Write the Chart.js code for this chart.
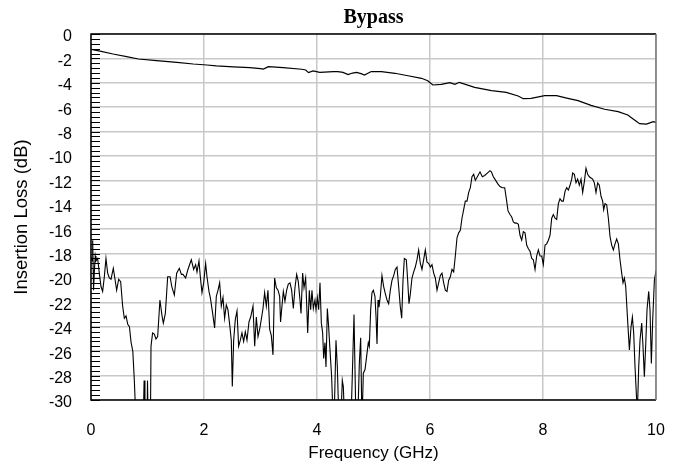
<!DOCTYPE html>
<html>
<head>
<meta charset="utf-8">
<script src="https://cdn.jsdelivr.net/npm/chart.js@4.4.1/dist/chart.umd.min.js"></script>
<style>
html,body{margin:0;padding:0;background:#fff;}
canvas{display:block;}
</style>
</head>
<body>
<canvas id="c" width="678" height="464"></canvas>
<script>
// Upper curve (Bypass insertion loss)
const freqTop = [0.0,0.05,0.16,0.39,0.63,0.84,1.16,1.52,1.81,2.05,2.22,2.52,2.81,3.0,3.05,3.14,3.40,3.73,3.80,3.85,3.93,4.05,4.29,4.37,4.46,4.55,4.63,4.70,4.78,4.84,4.96,5.14,5.38,5.61,5.85,5.96,6.05,6.2,6.35,6.44,6.52,6.79,7.09,7.35,7.56,7.65,7.79,8.03,8.24,8.44,8.62,8.85,9.09,9.33,9.50,9.62,9.71,9.83,9.95,10.0];
const lossTop = [-1.25,-1.3,-1.4,-1.64,-1.86,-2.05,-2.19,-2.32,-2.46,-2.54,-2.62,-2.70,-2.75,-2.84,-2.88,-2.68,-2.75,-2.89,-2.95,-3.17,-3.03,-3.14,-3.08,-3.08,-3.15,-3.33,-3.2,-3.14,-3.25,-3.36,-3.08,-3.08,-3.22,-3.42,-3.63,-3.83,-4.18,-4.13,-3.99,-4.13,-3.96,-4.37,-4.64,-4.78,-5.08,-5.3,-5.27,-5.05,-5.05,-5.27,-5.46,-5.85,-6.17,-6.36,-6.64,-7.05,-7.35,-7.38,-7.19,-7.24];

// Lower curve (isolation)
const freqLow = [0.0,0.018,0.03,0.045,0.059,0.075,0.088,0.118,0.147,0.177,0.206,0.236,0.265,0.295,0.324,0.354,0.395,0.425,0.454,0.49,0.525,0.56,0.59,0.62,0.65,0.68,0.71,0.74,0.767,0.785,0.82,0.92,0.94,0.955,0.99,1.0,1.015,1.05,1.062,1.09,1.12,1.15,1.18,1.22,1.257,1.28,1.316,1.357,1.4,1.43,1.475,1.516,1.563,1.6,
1.628,1.675,1.716,1.775,1.817,1.852,1.876,1.911,1.935,1.964,1.994,2.029,2.053,2.088,2.112,2.147,2.188,2.218,2.248,2.277,2.306,2.336,2.365,2.395,2.424,2.454,2.483,2.501,2.525,2.554,2.584,2.613,2.643,2.672,2.702,2.731,2.761,2.796,2.826,2.867,2.897,2.926,2.956,2.985,3.014,3.044,3.073,3.103,3.132,3.162,3.191,3.221,3.25,3.28,3.31,3.339,
3.355,3.374,3.404,3.433,3.463,3.492,3.522,3.551,3.581,3.61,3.64,3.669,3.699,3.717,3.746,3.77,3.799,3.817,3.835,3.864,3.888,3.911,3.935,3.964,3.982,4.006,4.029,4.053,4.077,4.1,4.118,4.141,4.159,4.183,4.206,4.23,4.259,4.277,4.301,4.336,4.36,4.389,4.419,4.448,4.466,4.49,4.6,4.625,4.655,4.69,4.72,4.749,4.773,4.796,4.82,4.85,4.879,4.908,4.926,4.95,4.973,4.997,5.026,5.045,5.062,5.08,5.097,
5.121,5.15,5.18,5.21,5.239,5.268,5.298,5.327,5.357,5.386,5.416,5.445,5.475,5.499,5.522,5.546,5.581,5.605,5.628,5.652,5.681,5.711,5.74,5.77,5.799,5.829,5.858,5.888,5.917,5.947,5.976,6.006,6.035,6.065,6.094,6.124,6.153,6.183,6.212,6.242,6.271,6.301,6.33,6.36,6.389,6.419,6.448,6.478,6.507,6.537,6.566,6.596,6.625,6.655,6.684,6.714,6.743,6.773,6.802,
6.838,6.885,6.926,6.968,7.015,7.062,7.086,7.121,7.162,7.204,7.239,7.28,7.322,7.351,7.381,7.416,7.446,7.475,7.505,7.534,7.564,7.593,7.623,7.652,7.682,7.711,7.741,7.77,7.8,7.829,7.859,7.888,7.918,7.947,7.977,8.006,8.036,8.065,8.095,8.124,8.154,8.183,8.213,8.242,8.272,8.301,8.331,8.36,8.39,8.419,8.449,8.478,8.508,
8.525,8.555,8.584,8.614,8.643,8.673,8.702,8.732,8.761,8.791,8.82,8.85,8.879,8.909,8.938,8.968,8.997,9.027,9.056,9.074,9.098,9.127,9.157,9.186,9.216,9.245,9.275,9.304,9.334,9.363,9.393,9.416,9.44,9.464,9.487,9.511,9.529,9.558,9.582,9.605,9.629,9.652,9.67,9.694,9.717,9.747,9.77,9.794,9.817,9.841,9.871,9.894,9.918,9.941,9.971,10.0];
const lossLow = [-18.3,-18.6,-16.9,-21.0,-19.5,-18.2,-18.6,-18.4,-19.6,-20.7,-21.1,-19.9,-18.4,-19.6,-20.0,-20.1,-19.2,-20.1,-21.0,-20.1,-20.3,-22.3,-23.3,-23.1,-23.8,-24.0,-25.3,-26.0,-28.4,-30.5,-33,-33,-28.4,-33,-33,-28.4,-33,-33,-25.6,-24.5,-24.6,-25.0,-24.8,-21.8,-23.1,-23.7,-22.9,-19.9,-19.9,-20.7,-21.4,-19.6,-19.2,-19.7,
-19.7,-20.0,-19.3,-18.5,-19.3,-18.9,-19.5,-18.6,-19.9,-21.2,-20.4,-18.8,-19.9,-21.1,-21.6,-22.7,-24.1,-21.5,-21.0,-20.4,-22.3,-21.6,-23.3,-22.2,-22.6,-23.8,-25.1,-28.9,-25.1,-23.4,-22.7,-25.6,-25.1,-24.5,-25.2,-24.4,-25.1,-23.6,-23.2,-22.3,-25.6,-23.2,-24.8,-24.2,-23.4,-22.5,-21.2,-22.3,-21.0,-24.2,-24.7,-26.3,-20.0,-20.8,-21.0,-21.5,
-23.6,-22.6,-21.1,-21.9,-21.0,-20.5,-20.4,-21.0,-22.5,-20.8,-19.7,-20.3,-21.8,-22.9,-19.6,-20.8,-20.0,-22.1,-24.5,-21.0,-22.6,-21.0,-22.5,-21.8,-22.6,-21.6,-22.6,-20.4,-23.7,-24.5,-26.6,-25.3,-27.3,-22.5,-24.0,-25.9,-28.1,-30.5,-32,-25.1,-27.3,-32,-32,-28.4,-28.9,-32,-32,-28,-23.0,-32,-32,-27.0,-24.9,-32,-27.8,-27.5,-26.4,-25.3,-25.6,-22.6,-21.2,-21.0,-21.5,-23.2,-25.4,-21.8,-22.4,
-21.5,-19.8,-20.7,-21.3,-21.8,-22.1,-21.0,-20.2,-19.8,-19.3,-19.1,-20.7,-22.4,-23.3,-20.2,-18.4,-18.5,-20.2,-22.1,-21.3,-20.0,-19.5,-19.1,-18.5,-17.7,-18.8,-19.3,-18.5,-17.7,-18.7,-18.8,-19.1,-18.9,-19.6,-20.0,-21.0,-20.4,-19.8,-19.6,-20.4,-21.0,-21.1,-20.2,-19.9,-19.3,-19.5,-18.2,-16.7,-16.3,-16.1,-15.1,-14.4,-13.7,-13.7,-13.0,-12.6,-11.7,-11.5,-12.0,
-11.7,-11.3,-11.7,-11.6,-11.4,-11.2,-11.3,-11.7,-12.0,-12.3,-12.5,-12.6,-12.6,-13.5,-14.5,-14.8,-15.0,-15.4,-15.5,-15.5,-15.6,-16.5,-16.9,-16.2,-16.3,-17.3,-17.6,-17.8,-18.4,-18.5,-19.3,-18.2,-17.7,-18.2,-18.2,-18.9,-17.3,-17.2,-16.9,-16.5,-15.1,-14.8,-15.1,-15.2,-13.9,-13.5,-13.7,-13.7,-12.9,-12.6,-12.8,-12.4,-11.9,
-11.4,-11.5,-12.2,-11.9,-12.4,-11.9,-13.0,-12.1,-11.0,-11.5,-11.7,-11.8,-11.9,-12.2,-13.0,-12.2,-12.4,-13.3,-13.7,-14.4,-13.9,-14.0,-15.1,-16.6,-17.3,-17.7,-17.2,-16.8,-17.2,-18.5,-19.6,-20.4,-20.0,-20.7,-22.6,-24.5,-25.9,-24.0,-23.2,-24.5,-27.3,-29.5,-31,-27.3,-25.1,-23.7,-25.6,-28.1,-25.6,-22.6,-21.1,-22.6,-27.0,-23.5,-20.2,-19.4];

const xTicksStep = 2;
const yTicksStep = 2;
const yMinorStep = 0.4;
const title = 'Bypass';
const xTitle = 'Frequency (GHz)';
const yTitle = 'Insertion Loss (dB)';

function pts(xs, ys){ return xs.map((x,i)=>({x:x, y:ys[i]})); }

const framePlugin = {
  id:'frame',
  afterDatasetsDraw(chart){
    const {ctx, chartArea:a, scales:{y}} = chart;
    ctx.save();
    ctx.strokeStyle = '#000';
    ctx.lineWidth = 1;
    for (let v = 0; v >= -30 - 1e-6; v -= yMinorStep){
      const py = Math.round(y.getPixelForValue(v)) + 0.5;
      ctx.beginPath(); ctx.moveTo(a.left, py); ctx.lineTo(a.left + 9, py); ctx.stroke();
    }
    ctx.lineWidth = 1.5;
    ctx.beginPath();
    ctx.moveTo(a.right, a.top); ctx.lineTo(a.left, a.top); ctx.lineTo(a.left, a.bottom); ctx.lineTo(a.right, a.bottom);
    ctx.stroke();
    ctx.strokeStyle = '#777';
    ctx.beginPath(); ctx.moveTo(a.right, a.top); ctx.lineTo(a.right, a.bottom); ctx.stroke();
    ctx.restore();
  }
};

new Chart(document.getElementById('c'), {
  type:'line',
  data:{
    datasets:[
      {data:pts(freqTop, lossTop), borderColor:'#000', borderWidth:1.2, pointRadius:0, tension:0, fill:false},
      {data:pts(freqLow, lossLow), borderColor:'#000', borderWidth:1.1, pointRadius:0, tension:0, fill:false}
    ]
  },
  options:{
    responsive:false,
    animation:false,
    layout:{padding:{left:0, right:22, top:0, bottom:0}},
    plugins:{
      legend:{display:false},
      tooltip:{enabled:false},
      title:{display:true, fullSize:false, text:title, color:'#000', font:{family:'Liberation Serif', size:20, weight:'bold'}, padding:{top:6, bottom:4}}
    },
    scales:{
      x:{
        type:'linear', min:0, max:10,
        ticks:{stepSize:xTicksStep, padding:21, color:'#000', font:{family:'Liberation Sans', size:16}},
        grid:{color:'#c8c8c8', lineWidth:1.5, drawTicks:false},
        border:{display:false},
        title:{display:true, text:xTitle, color:'#000', font:{family:'Liberation Sans', size:17}, padding:{top:0, bottom:0}},
        afterFit(s){ s.height = 64; s.paddingRight = 0; s.paddingLeft = 0; }
      },
      y:{
        type:'linear', min:-30, max:0,
        ticks:{stepSize:yTicksStep, padding:19, labelOffset:3, color:'#000', font:{family:'Liberation Sans', size:16}, callback:v=>String(v)},
        grid:{color:'#c8c8c8', lineWidth:1.5, drawTicks:false},
        border:{display:false},
        title:{display:true, text:yTitle, color:'#000', font:{family:'Liberation Sans', size:18.5}, padding:{top:11, bottom:0}},
        afterFit(s){ s.width = 91; }
      }
    }
  },
  plugins:[framePlugin]
});
</script>
</body>
</html>
